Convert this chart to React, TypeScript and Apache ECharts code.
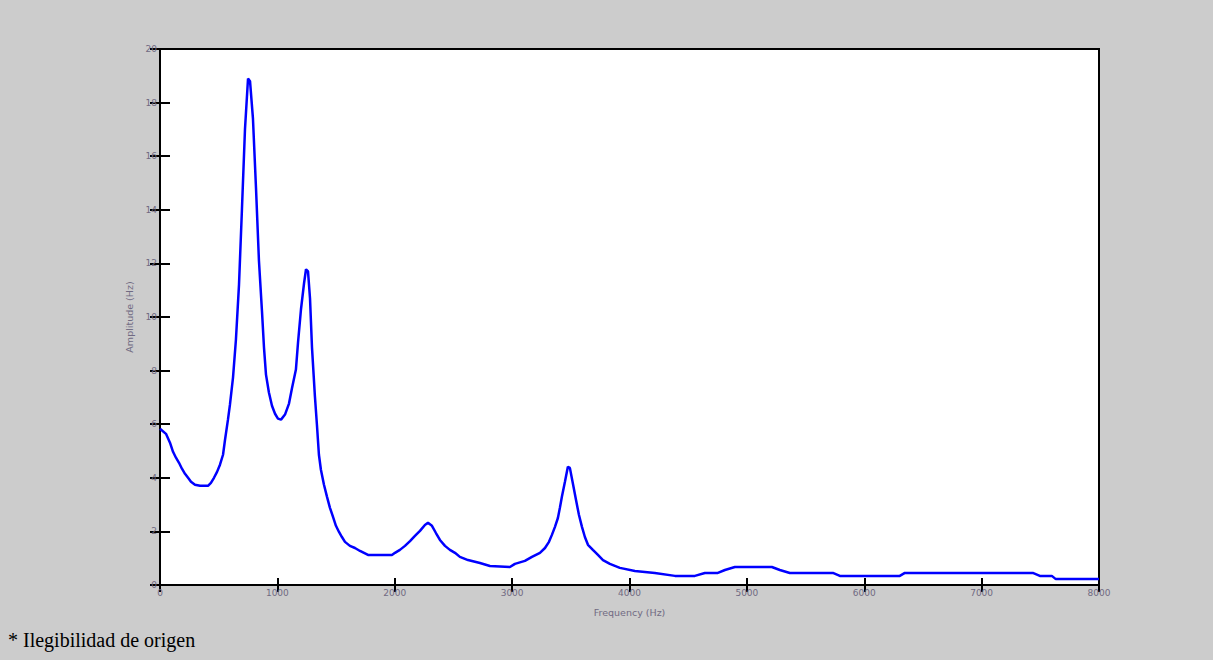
import React, { useEffect, useRef } from "react";
import * as echarts from "echarts";

// Frequency (Hz) sample points
const freqs = [
  0, 51, 85, 111, 136, 162, 187, 213, 239, 264, 298, 341, 409, 434, 460, 486, 511, 537,
  554, 579, 596, 622, 647, 673, 698, 724, 750, 767, 792, 818, 843, 869, 886, 903, 928,
  954, 980, 1005, 1031, 1065, 1099, 1124, 1158, 1176, 1201, 1227, 1244, 1261, 1278, 1295,
  1320, 1337, 1354, 1371, 1397, 1423, 1448, 1474, 1499, 1525, 1550, 1576, 1618, 1661,
  1704, 1772, 1976, 2002, 2044, 2087, 2130, 2172, 2215, 2257, 2283, 2317, 2351, 2385,
  2428, 2470, 2513, 2555, 2624, 2726, 2811, 2981, 3024, 3109, 3169, 3237, 3280, 3314,
  3339, 3365, 3390, 3407, 3424, 3450, 3475, 3492, 3518, 3544, 3569, 3595, 3620, 3646,
  3688, 3731, 3774, 3833, 3918, 4046, 4216, 4387, 4557, 4642, 4753, 4813, 4898, 5213,
  5281, 5366, 5733, 5792, 6303, 6346, 7436, 7496, 7598, 7632, 8000,
];
// Amplitude values at those frequencies
const amps = [
  5.83, 5.64, 5.31, 4.97, 4.75, 4.56, 4.34, 4.15, 4.0, 3.85, 3.74, 3.7, 3.7, 3.81, 4.0,
  4.22, 4.49, 4.86, 5.42, 6.17, 6.73, 7.74, 9.16, 11.2, 14.0, 17.0, 18.9, 18.8, 17.4,
  14.8, 12.1, 10.2, 8.86, 7.85, 7.18, 6.69, 6.39, 6.21, 6.17, 6.36, 6.77, 7.33, 8.04,
  9.05, 10.28, 11.25, 11.78, 11.7, 10.7, 8.86, 7.03, 5.98, 4.86, 4.3, 3.74, 3.29, 2.88,
  2.54, 2.21, 1.98, 1.79, 1.61, 1.46, 1.38, 1.27, 1.12, 1.12, 1.2, 1.31, 1.46, 1.64,
  1.83, 2.02, 2.24, 2.32, 2.21, 1.94, 1.68, 1.46, 1.31, 1.2, 1.05, 0.93, 0.82, 0.71,
  0.67, 0.79, 0.9, 1.05, 1.2, 1.38, 1.61, 1.87, 2.17, 2.5, 2.88, 3.29, 3.85, 4.41, 4.37,
  3.78, 3.18, 2.62, 2.17, 1.79, 1.5, 1.31, 1.12, 0.93, 0.79, 0.64, 0.52, 0.45, 0.34,
  0.34, 0.45, 0.45, 0.56, 0.67, 0.67, 0.56, 0.45, 0.45, 0.34, 0.34, 0.45, 0.45, 0.34,
  0.34, 0.22, 0.22,
];

const xMin = 0;
const xMax = 8000;
const xStep = 1000;
const yMin = 0;
const yMax = 20;
const yStep = 2;

const xName = "Frequency (Hz)";
const yName = "Amplitude (Hz)";
const footnote = "* Ilegibilidad de origen";

export default function App() {
  const ref = useRef<HTMLDivElement>(null);

  useEffect(() => {
    if (!ref.current) return;
    const chart = echarts.init(ref.current, null, { renderer: "svg" });
    const labelColor = "#706a82";
    const labelStyle = { color: labelColor, fontSize: 9, fontFamily: "DejaVu Sans" };
    const data = freqs.map((f, i) => [f, amps[i]]);
    const plain = (v: number) => String(v);
    chart.setOption({
      animation: false,
      backgroundColor: "#cccccc",
      grid: {
        left: 160,
        top: 49,
        right: 114,
        bottom: 75,
        show: true,
        backgroundColor: "#ffffff",
        borderColor: "#000000",
        borderWidth: 2,
      },
      xAxis: [
        {
          type: "value",
          position: "bottom",
          min: xMin,
          max: xMax,
          interval: xStep,
          name: xName,
          nameLocation: "middle",
          nameGap: 22,
          nameTextStyle: { ...labelStyle, fontSize: 9.5 },
          axisLine: { show: false },
          axisTick: { show: true, inside: true, length: 7, lineStyle: { color: "#000", width: 2 } },
          axisLabel: { ...labelStyle, margin: 3, formatter: plain },
          splitLine: { show: false },
        },
        {
          type: "value",
          position: "top",
          min: xMin,
          max: xMax,
          interval: xStep,
          axisLine: { show: false },
          axisTick: { show: true, inside: true, length: 7, lineStyle: { color: "#000", width: 2 } },
          axisLabel: { show: false },
          splitLine: { show: false },
        },
      ],
      yAxis: [
        {
          type: "value",
          position: "left",
          min: yMin,
          max: yMax,
          interval: yStep,
          name: yName,
          nameLocation: "middle",
          nameGap: 24,
          nameTextStyle: { ...labelStyle, fontSize: 9.5 },
          axisLine: { show: false },
          axisTick: { show: true, inside: true, length: 10, lineStyle: { color: "#000", width: 2 } },
          axisLabel: { ...labelStyle, margin: 3, formatter: plain },
          splitLine: { show: false },
        },
        {
          type: "value",
          position: "right",
          min: yMin,
          max: yMax,
          interval: yStep,
          axisLine: { show: false },
          axisTick: { show: true, inside: true, length: 10, lineStyle: { color: "#000", width: 2 } },
          axisLabel: { show: false },
          splitLine: { show: false },
        },
      ],
      graphic: [
        {
          type: "text",
          left: 8,
          top: 630,
          style: {
            text: footnote,
            fill: "#000000",
            font: "20px 'Liberation Serif', serif",
          },
        },
      ],
      series: [
        {
          type: "line",
          xAxisIndex: 0,
          yAxisIndex: 0,
          data,
          showSymbol: false,
          lineStyle: { color: "#0000ff", width: 2.5 },
          clip: true,
        },
      ],
    });
    return () => chart.dispose();
  }, []);

  return (
    <div
      ref={ref}
      style={{ position: "absolute", left: 0, top: 0, width: 1213, height: 660 }}
    />
  );
}
